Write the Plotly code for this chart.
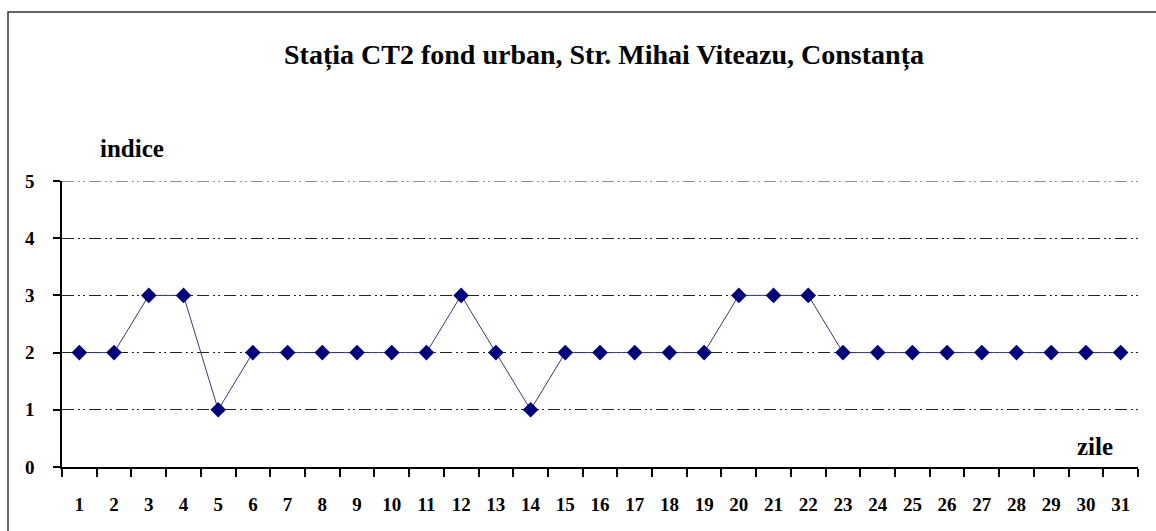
import plotly.graph_objects as go

days = [str(d) for d in range(1, 32)]
indice = [2, 2, 3, 3, 1, 2, 2, 2, 2, 2, 2, 3, 2, 1, 2, 2, 2, 2, 2, 3, 3, 3, 2, 2, 2, 2, 2, 2, 2, 2, 2]
y_ticks = [0, 1, 2, 3, 4, 5]
title_text = "Stația CT2 fond urban, Str. Mihai Viteazu, Constanța"
y_label = "indice"
x_label = "zile"

W, H = 1156, 531
L, R, T, B = 62, 18, 181, 64
pw, ph = W - L - R, H - T - B

def px(x):
    return (x - L) / pw

def py(y):
    return (H - B - y) / ph

serif = "Liberation Serif, Times New Roman, serif"
grid_dash = "12px,4px,2px,3px,2px,4px"

fig = go.Figure()
fig.add_trace(go.Scatter(
    x=days, y=indice, mode="lines+markers",
    line=dict(color="#3a3a6e", width=1),
    marker=dict(symbol="diamond", size=12, color="#00007a"),
    showlegend=False, cliponaxis=False,
))

fig.update_layout(
    width=W, height=H,
    margin=dict(l=L, r=R, t=T, b=B),
    paper_bgcolor="white", plot_bgcolor="white",
    font=dict(family=serif, color="black"),
    xaxis=dict(
        type="category", tickson="boundaries", range=[-0.5, 30.5],
        showline=True, linecolor="black", linewidth=1.5,
        ticks="outside", ticklen=8, tickcolor="black", tickwidth=1.5,
        showgrid=False, zeroline=False,
        tickfont=dict(family=serif, size=19, color="black", weight="bold"),
        ticklabelstandoff=19,
        fixedrange=True,
    ),
    yaxis=dict(
        range=[0, 5], tickvals=y_ticks,
        showline=True, linecolor="black", linewidth=1.5,
        ticks="outside", ticklen=7, tickcolor="black", tickwidth=1.5,
        showgrid=True, gridcolor="#222222", gridwidth=1,
        griddash=grid_dash,
        zeroline=False,
        tickfont=dict(family=serif, size=19, color="black", weight="bold"),
        ticklabelstandoff=15,
        fixedrange=True,
    ),
    title=dict(
        text=title_text, xref="container", x=604 / W, xanchor="center",
        y=1 - 54 / H, yanchor="middle",
        font=dict(family=serif, size=28, color="black", weight="bold"),
    ),
)

# top gridline at y=5 (plotly skips the gridline at the range edge)
fig.add_shape(type="line", xref="paper", yref="y", x0=0, x1=1, y0=y_ticks[-1], y1=y_ticks[-1],
              line=dict(color="#222222", width=1, dash=grid_dash))

fig.add_annotation(text=y_label, xref="paper", yref="paper", x=px(132), y=py(148),
                   showarrow=False, xanchor="center", yanchor="middle",
                   font=dict(family=serif, size=25, color="black", weight="bold"))
fig.add_annotation(text=x_label, xref="paper", yref="paper", x=px(1095), y=py(446),
                   showarrow=False, xanchor="center", yanchor="middle",
                   font=dict(family=serif, size=25, color="black", weight="bold"))

fig.add_shape(type="rect", xref="paper", yref="paper",
              x0=px(8), x1=px(1170), y0=py(545), y1=py(12),
              line=dict(color="#333333", width=1.5), layer="below")

fig.write_html("out.html", config={"displayModeBar": False},
               post_script="document.body.style.margin='0';document.body.style.overflow='hidden';")
